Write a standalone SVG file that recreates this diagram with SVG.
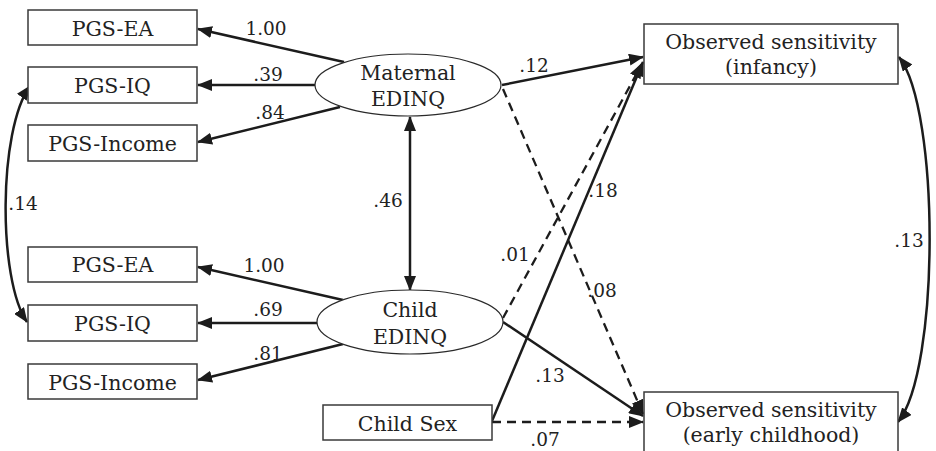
<svg xmlns="http://www.w3.org/2000/svg" width="936" height="451" viewBox="0 0 936 451">
<style>
.box{fill:#fff;stroke:#3a3a3a;stroke-width:1.5}
.ell{fill:#fff;stroke:#2a2a2a;stroke-width:1.2}
.t{font-family:"DejaVu Serif","Liberation Serif",serif;font-size:20.5px;fill:#222;text-anchor:middle}
.l{font-family:"DejaVu Serif","Liberation Serif",serif;font-size:18.5px;fill:#222;text-anchor:middle}
.a{fill:none;stroke:#1c1c1c;stroke-width:2.5}
.d{fill:none;stroke:#1c1c1c;stroke-width:2.3;stroke-dasharray:9 6}
</style>
<defs>
<marker id="ah" viewBox="0 0 15 12" markerUnits="userSpaceOnUse" markerWidth="15" markerHeight="12" refX="14" refY="6" orient="auto-start-reverse">
<path d="M0,0 L15,6 L0,12 z" fill="#1c1c1c"/>
</marker>
</defs>
<rect width="936" height="451" fill="#fff"/>

<g id="connectors">
<line class="a" x1="344" y1="62" x2="198" y2="29" marker-end="url(#ah)"/>
<line class="a" x1="315" y1="85" x2="198" y2="85" marker-end="url(#ah)"/>
<line class="a" x1="340" y1="107" x2="198" y2="142" marker-end="url(#ah)"/>
<line class="a" x1="343" y1="300" x2="198" y2="267" marker-end="url(#ah)"/>
<line class="a" x1="317" y1="323" x2="198" y2="323" marker-end="url(#ah)"/>
<line class="a" x1="343" y1="344" x2="198" y2="380" marker-end="url(#ah)"/>
<line class="a" x1="410" y1="117" x2="410" y2="290" marker-start="url(#ah)" marker-end="url(#ah)"/>
<path class="a" d="M30,86 C-2,130 -2,280 27,322" marker-start="url(#ah)" marker-end="url(#ah)"/>
<path class="a" d="M899,57 C940,110 940,370 898,422" marker-start="url(#ah)" marker-end="url(#ah)"/>
<line class="a" x1="502" y1="85" x2="643" y2="57" marker-end="url(#ah)"/>
<line class="d" x1="503" y1="89" x2="643" y2="414" marker-end="url(#ah)"/>
<line class="a" x1="503" y1="322" x2="643" y2="416" marker-end="url(#ah)"/>
<line class="d" x1="492" y1="422" x2="643" y2="422" marker-end="url(#ah)"/>
<line class="a" x1="492" y1="421" x2="643" y2="62" marker-end="url(#ah)"/>
<line class="d" x1="503" y1="318" x2="642" y2="64" marker-end="url(#ah)"/>
</g>

<g id="labels">
<text class="l" x="266" y="35">1.00</text>
<text class="l" x="268" y="81">.39</text>
<text class="l" x="270" y="119">.84</text>
<text class="l" x="534" y="72">.12</text>
<text class="l" x="388" y="207">.46</text>
<text class="l" x="23" y="210">.14</text>
<text class="l" x="264" y="272">1.00</text>
<text class="l" x="268" y="316">.69</text>
<text class="l" x="268" y="360">.81</text>
<text class="l" x="603" y="197">.18</text>
<text class="l" x="515" y="261">.01</text>
<text class="l" x="602" y="297">.08</text>
<text class="l" x="550" y="382">.13</text>
<text class="l" x="545" y="446">.07</text>
<text class="l" x="909" y="247">.13</text>
</g>

<g id="pgs-ea-m"><rect class="box" x="28" y="10" width="169" height="35"/><text class="t" x="112.5" y="36">PGS-EA</text></g>
<g id="pgs-iq-m"><rect class="box" x="28" y="67" width="169" height="36"/><text class="t" x="112.5" y="93">PGS-IQ</text></g>
<g id="pgs-income-m"><rect class="box" x="28" y="125" width="169" height="36"/><text class="t" x="112.5" y="151">PGS-Income</text></g>
<g id="pgs-ea-c"><rect class="box" x="28" y="247" width="169" height="35"/><text class="t" x="112.5" y="272">PGS-EA</text></g>
<g id="pgs-iq-c"><rect class="box" x="28" y="305" width="169" height="36"/><text class="t" x="112.5" y="331">PGS-IQ</text></g>
<g id="pgs-income-c"><rect class="box" x="28" y="364" width="169" height="35"/><text class="t" x="112.5" y="390">PGS-Income</text></g>

<g id="maternal-edinq"><ellipse class="ell" cx="408" cy="85" rx="93" ry="31"/><text class="t" x="408" y="80">Maternal</text><text class="t" x="408" y="106">EDINQ</text></g>
<g id="child-edinq"><ellipse class="ell" cx="410" cy="322" rx="93" ry="32"/><text class="t" x="410" y="317">Child</text><text class="t" x="410" y="344">EDINQ</text></g>

<g id="sens-infancy"><rect class="box" x="644" y="24" width="254" height="60"/><text class="t" x="771" y="49">Observed sensitivity</text><text class="t" x="771" y="74">(infancy)</text></g>
<g id="sens-early"><rect class="box" x="644" y="392" width="254" height="62"/><text class="t" x="771" y="417">Observed sensitivity</text><text class="t" x="771" y="442">(early childhood)</text></g>
<g id="child-sex"><rect class="box" x="323" y="405" width="169" height="35"/><text class="t" x="407.5" y="431">Child Sex</text></g>
</svg>
